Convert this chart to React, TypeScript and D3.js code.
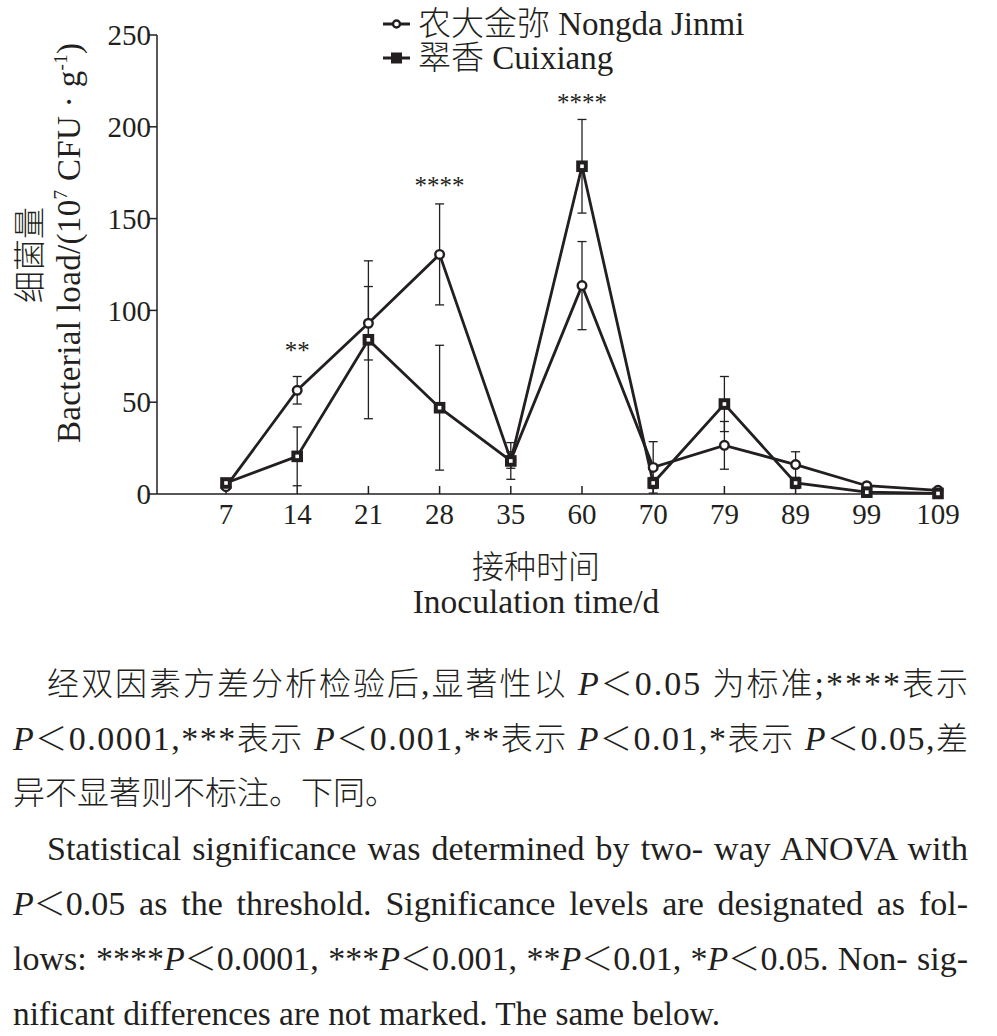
import React, { useLayoutEffect, useRef, useState } from "react";
import * as d3 from "d3";

const categories = ["7", "14", "21", "28", "35", "60", "70", "79", "89", "99", "109"];
const nongdaMean = [4, 56.5, 93, 130.5, 18.5, 113.5, 14.5, 26.5, 16, 4.5, 2];
const nongdaErr = [1.5, 7.5, 20, 27.5, 4.5, 24, 14, 13, 7, 1, 0.5];
const cuixiangMean = [6, 20.5, 84, 47, 18, 178.5, 6, 49, 6, 1, 0.3];
const cuixiangErr = [2, 16, 43, 34, 10, 25.5, 3, 15, 3, 0.5, 0.2];
const yTicks = [0, 50, 100, 150, 200, 250];
const sigMarks = [
  { cat: "14", label: "**", value: 73.5 },
  { cat: "28", label: "****", value: 163.5 },
  { cat: "60", label: "****", value: 208.5 },
];

const INK = "#231f20";
const SERIF = "'Liberation Serif', 'Times New Roman', serif";
const CJK = "'Noto Sans CJK SC', sans-serif";

type Seg = { t: string; f?: "c" | "l" | "i" };

const captionLines: { segs: Seg[]; x: number; y: number; w?: number; mode: "cjk" | "en" }[] = [
  {
    x: 47, y: 695, w: 921, mode: "cjk",
    segs: [
      { t: "经双因素方差分析检验后", f: "c" }, { t: ",", f: "l" }, { t: "显著性以", f: "c" }, { t: " ", f: "l" },
      { t: "P", f: "i" }, { t: "＜", f: "c" }, { t: "0.05 ", f: "l" }, { t: "为标准", f: "c" }, { t: ";****", f: "l" }, { t: "表示", f: "c" },
    ],
  },
  {
    x: 13, y: 750, w: 955, mode: "cjk",
    segs: [
      { t: "P", f: "i" }, { t: "＜", f: "c" }, { t: "0.0001,***", f: "l" }, { t: "表示", f: "c" }, { t: " ", f: "l" },
      { t: "P", f: "i" }, { t: "＜", f: "c" }, { t: "0.001,**", f: "l" }, { t: "表示", f: "c" }, { t: " ", f: "l" },
      { t: "P", f: "i" }, { t: "＜", f: "c" }, { t: "0.01,*", f: "l" }, { t: "表示", f: "c" }, { t: " ", f: "l" },
      { t: "P", f: "i" }, { t: "＜", f: "c" }, { t: "0.05,", f: "l" }, { t: "差", f: "c" },
    ],
  },
  { x: 13, y: 804, mode: "cjk", segs: [{ t: "异不显著则不标注。下同。", f: "c" }] },
  {
    x: 47, y: 860, w: 921, mode: "en",
    segs: [{ t: "Statistical significance was determined by two- way ANOVA with", f: "l" }],
  },
  {
    x: 13, y: 915, w: 955, mode: "en",
    segs: [
      { t: "P", f: "i" }, { t: "＜", f: "c" },
      { t: "0.05 as the threshold. Significance levels are designated as fol-", f: "l" },
    ],
  },
  {
    x: 13, y: 970, w: 955, mode: "en",
    segs: [
      { t: "lows: ****", f: "l" }, { t: "P", f: "i" }, { t: "＜", f: "c" }, { t: "0.0001, ***", f: "l" },
      { t: "P", f: "i" }, { t: "＜", f: "c" }, { t: "0.001, **", f: "l" },
      { t: "P", f: "i" }, { t: "＜", f: "c" }, { t: "0.01, *", f: "l" },
      { t: "P", f: "i" }, { t: "＜", f: "c" }, { t: "0.05. Non- sig-", f: "l" },
    ],
  },
  {
    x: 13, y: 1025, w: 707, mode: "en",
    segs: [{ t: "nificant differences are not marked. The same below.", f: "l" }],
  },
];

function segStyle(f?: string): React.CSSProperties {
  if (f === "c") return { fontFamily: CJK, fontWeight: 300, fontSize: 32 };
  if (f === "i") return { fontFamily: SERIF, fontStyle: "italic" };
  return { fontFamily: SERIF };
}

function JustLine({ line }: { line: (typeof captionLines)[number] }) {
  const ref = useRef<SVGTextElement>(null);
  const [ws, setWs] = useState<number | null>(null);
  const [fallback, setFallback] = useState(false);
  useLayoutEffect(() => {
    if (!ref.current || !line.w || line.mode !== "en") return;
    const nat = ref.current.getComputedTextLength();
    const txt = line.segs.map((s) => s.t).join("");
    const spaces = (txt.match(/ /g) || []).length;
    const extra = line.w - nat;
    if (extra >= 0 && spaces > 0) setWs(extra / spaces);
    else setFallback(true);
  }, []);
  const fs = 34;
  const props: any = {};
  if (line.w && (line.mode === "cjk" || fallback)) {
    props.textLength = line.w;
    props.lengthAdjust = line.mode === "cjk" ? "spacing" : "spacingAndGlyphs";
  }
  return (
    <text
      ref={ref}
      x={line.x}
      y={line.y}
      fontSize={fs}
      fill={INK}
      style={{ wordSpacing: ws != null ? `${ws}px` : undefined, whiteSpace: "pre" }}
      {...props}
    >
      {line.segs.map((s, i) => (
        <tspan key={i} style={segStyle(s.f)}>
          {s.t}
        </tspan>
      ))}
    </text>
  );
}

export default function App() {
  const W = 997;
  const H = 1036;
  const axisLeft = 157;
  const axisRight = 940;
  const x = d3.scalePoint<string>().domain(categories).range([226, 938]);
  const y = d3.scaleLinear().domain([0, 250]).range([494, 35]);

  const series = [
    { name: "nongda", mean: nongdaMean, err: nongdaErr, marker: "circle" },
    { name: "cuixiang", mean: cuixiangMean, err: cuixiangErr, marker: "square" },
  ];

  const line = d3
    .line<number>()
    .x((_, i) => x(categories[i]) as number)
    .y((d) => y(d));

  const cap = 4.5;

  const renderMarker = (kind: string, cx: number, cy: number, key: any, legend = false) =>
    kind === "circle" ? (
      <circle key={key} cx={cx} cy={cy} r={legend ? 3.5 : 4.3} fill="#fff" stroke={INK} strokeWidth={2.4} />
    ) : (
      <rect
        key={key}
        x={cx - (legend ? 3.5 : 3.8)}
        y={cy - (legend ? 3.5 : 3.8)}
        width={legend ? 7 : 7.6}
        height={legend ? 7 : 7.6}
        fill={legend ? INK : "#fff"}
        stroke={INK}
        strokeWidth={4}
      />
    );

  return (
    <svg
      width={W}
      height={H}
      viewBox={`0 0 ${W} ${H}`}
      style={{ position: "absolute", left: 0, top: 0, background: "#fff" }}
    >
      <rect x={0} y={0} width={W} height={H} fill="#fff" />
      {/* axes */}
      <line x1={axisLeft} x2={axisLeft} y1={y(250)} y2={y(0)} stroke={INK} strokeWidth={1.5} />
      <line x1={axisLeft} x2={axisRight} y1={y(0)} y2={y(0)} stroke={INK} strokeWidth={1.5} />
      {yTicks.map((t) => (
        <g key={t}>
          <line x1={axisLeft - 8} x2={axisLeft} y1={y(t)} y2={y(t)} stroke={INK} strokeWidth={1.5} />
          <text
            x={axisLeft - 6}
            y={y(t)}
            dy="0.35em"
            textAnchor="end"
            fontFamily={SERIF}
            fontSize={29}
            fill={INK}
          >
            {t}
          </text>
        </g>
      ))}
      {categories.map((c) => (
        <g key={c}>
          <line x1={x(c)} x2={x(c)} y1={y(0)} y2={y(0) - 8} stroke={INK} strokeWidth={1.5} />
          <text x={x(c)} y={524} textAnchor="middle" fontFamily={SERIF} fontSize={29} fill={INK}>
            {c}
          </text>
        </g>
      ))}

      {/* error bars */}
      {series.map((s) =>
        s.mean.map((m, i) => {
          const cx = x(categories[i]) as number;
          const top = y(m + s.err[i]);
          const bot = y(Math.max(0, m - s.err[i]));
          return (
            <g key={s.name + i} stroke={INK} strokeWidth={1.3}>
              <line x1={cx} x2={cx} y1={top} y2={bot} />
              <line x1={cx - cap} x2={cx + cap} y1={top} y2={top} />
              <line x1={cx - cap} x2={cx + cap} y1={bot} y2={bot} />
            </g>
          );
        })
      )}

      {/* lines */}
      {series.map((s) => (
        <path key={s.name} d={line(s.mean) || ""} fill="none" stroke={INK} strokeWidth={2.8} strokeLinejoin="miter" />
      ))}
      {/* markers */}
      {series.map((s) =>
        s.mean.map((m, i) => renderMarker(s.marker, x(categories[i]) as number, y(m), s.name + "m" + i))
      )}

      {/* significance */}
      {sigMarks.map((sm) => (
        <text
          key={sm.cat}
          x={x(sm.cat)}
          y={y(sm.value)}
          textAnchor="middle"
          fontFamily={SERIF}
          fontSize={25}
          fill={INK}
        >
          {sm.label}
        </text>
      ))}

      {/* legend */}
      {[
        { marker: "circle", cn: "农大金弥", en: " Nongda Jinmi", y: 24 },
        { marker: "square", cn: "翠香", en: " Cuixiang", y: 58 },
      ].map((l) => (
        <g key={l.cn}>
          <line x1={383} x2={410} y1={l.y} y2={l.y} stroke={INK} strokeWidth={3} />
          {renderMarker(l.marker, 396.5, l.y, "lg" + l.cn, true)}
          <text x={418} y={l.y + 11} fontSize={33} fill={INK} style={{ whiteSpace: "pre" }}>
            <tspan style={{ fontFamily: CJK, fontWeight: 300 }}>{l.cn}</tspan>
            <tspan style={{ fontFamily: SERIF }}>{l.en}</tspan>
          </text>
        </g>
      ))}

      {/* y axis title */}
      <g transform="translate(41,255) rotate(-90)">
        <text textAnchor="middle" fontFamily={CJK} fontWeight={300} fontSize={32} fill={INK}>
          细菌量
        </text>
      </g>
      <g transform="translate(80,243) rotate(-90)">
        <text
          x={-200}
          fontFamily={SERIF}
          fontSize={33}
          fill={INK}
          textLength={400}
          lengthAdjust="spacing"
          style={{ whiteSpace: "pre" }}
        >
          Bacterial load/(10
          <tspan dy={-13} fontSize={19}>7</tspan>
          <tspan dy={13}> CFU · g</tspan>
          <tspan dy={-13} fontSize={19}>-1</tspan>
          <tspan dy={13}>)</tspan>
        </text>
      </g>

      {/* x axis title */}
      <text x={536} y={578} textAnchor="middle" fontFamily={CJK} fontWeight={300} fontSize={32} fill={INK}>
        接种时间
      </text>
      <text x={536} y={613} textAnchor="middle" fontFamily={SERIF} fontSize={33.5} fill={INK}>
        Inoculation time/d
      </text>

      {/* caption */}
      {captionLines.map((l, i) => (
        <JustLine key={i} line={l} />
      ))}
    </svg>
  );
}
